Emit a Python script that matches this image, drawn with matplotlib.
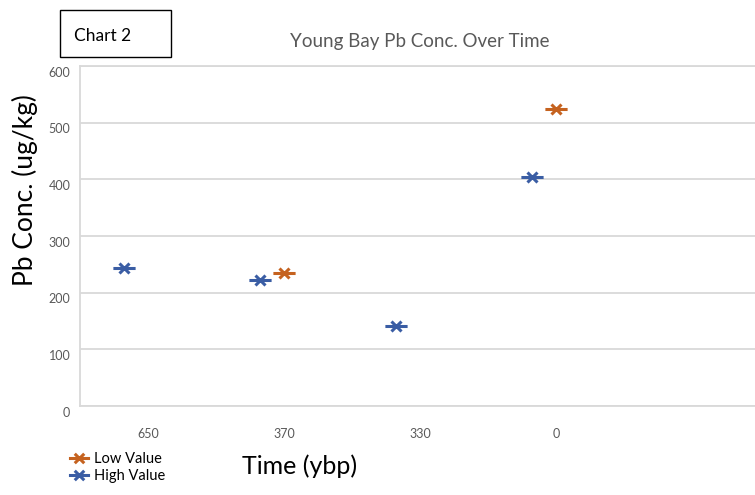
import matplotlib.pyplot as plt
from matplotlib.path import Path
from matplotlib.patches import Rectangle
from matplotlib.transforms import ScaledTranslation

plt.rcParams['font.family'] = ['Lato', 'DejaVu Sans']

# sample ages (years before present) and Pb concentrations
ages = ["650", "370", "330", "0", ""]
high_idx = [0, 1, 2, 3]
high_vals = [243, 223, 142, 404]
low_idx = [1, 3]
low_vals = [234, 525]

BLUE = "#3A5DA4"
ORANGE = "#C5621F"
GRID = "#D9D9D9"

# star marker: an x with a horizontal bar through it
star = Path(
    [(-1, 0), (1, 0), (-0.45, -0.45), (0.45, 0.45), (-0.45, 0.45), (0.45, -0.45)],
    [Path.MOVETO, Path.LINETO, Path.MOVETO, Path.LINETO, Path.MOVETO, Path.LINETO],
)

fig = plt.figure(figsize=(7.55, 4.95), dpi=100)
ax = fig.add_axes([80 / 755, 1 - 406 / 495, 680 / 755, 340 / 495])

off = -0.173
h = ax.plot([i + off for i in high_idx], high_vals, linestyle="none", marker=star,
            markersize=16, markeredgewidth=2.2, color=BLUE, label="High Value")[0]
l = ax.plot(low_idx, low_vals, linestyle="none", marker=star,
            markersize=16, markeredgewidth=2.2, color=ORANGE, label="Low Value")[0]

ax.set_xlim(-0.5, 4.5)
ax.set_ylim(0, 600)
ax.set_yticks(range(0, 601, 100))
ax.set_xticks(range(len(ages)))
ax.set_xticklabels(ages)
ax.grid(axis="y", color=GRID, linewidth=1.3)
ax.set_axisbelow(True)
for side in ["left", "top", "bottom"]:
    ax.spines[side].set_color(GRID)
    ax.spines[side].set_linewidth(1.3)
ax.spines["right"].set_visible(False)
ax.tick_params(axis="both", length=0, labelsize=9, labelcolor="#595959")
ax.tick_params(axis="x", pad=16)
ax.tick_params(axis="y", pad=7)
shift = ScaledTranslation(0, -4 / 72, fig.dpi_scale_trans)
for t in ax.get_yticklabels():
    t.set_transform(t.get_transform() + shift)

fig.text(25 / 755, 1 - 190 / 495, "Pb Conc. (ug/kg)", rotation=90, fontsize=19,
         ha="center", va="center", color="black")
fig.text(300 / 755, 1 - 466 / 495, "Time (ybp)", fontsize=18,
         ha="center", va="center", color="black")
fig.text(290 / 755, 1 - 42 / 495, "Young Bay Pb Conc. Over Time", fontsize=13.5,
         ha="left", va="center", color="#595959")

fig.patches.append(Rectangle((60 / 755, 1 - 57 / 495), 111 / 755, 47 / 495,
                             transform=fig.transFigure, fill=False,
                             edgecolor="black", linewidth=1.0))
fig.text(74 / 755, 1 - 36 / 495, "Chart 2", fontsize=12.5, ha="left", va="center",
         color="black")

fig.legend(handles=[l, h], loc="upper left", bbox_to_anchor=(68 / 755, 1 - 452 / 495),
           frameon=False, fontsize=10.5, handletextpad=0.3, labelspacing=0.2,
           handlelength=1.5, borderpad=0, borderaxespad=0, markerscale=0.95)

fig.savefig("out.png", dpi=100)
